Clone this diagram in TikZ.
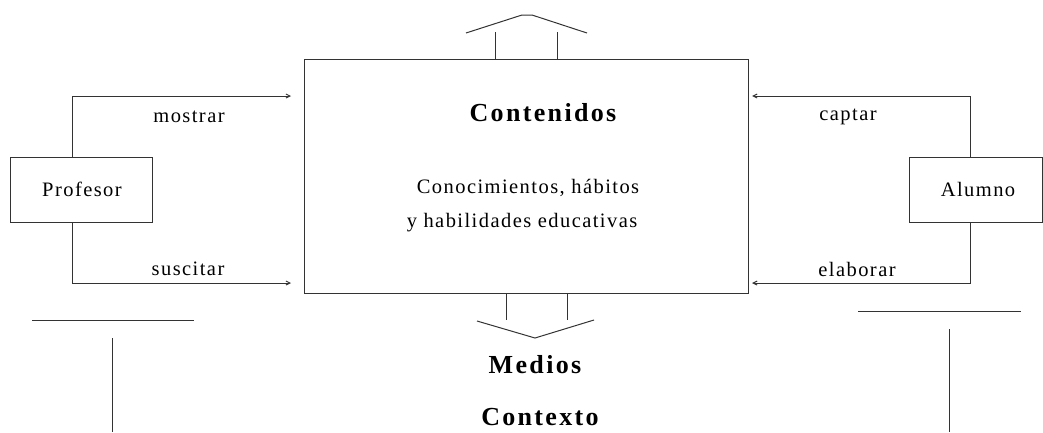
\documentclass[tikz,border=0pt]{standalone}
\usepackage{fontspec}
\setmainfont{Liberation Serif}
\usetikzlibrary{arrows.meta}
\tikzset{
  ln/.style={line width=1pt, draw=black!80},
  arr/.style={ln, -{Straight Barb[length=4pt,width=4pt]}},
  box/.style={ln, rectangle, inner sep=0pt},
  lbl/.style={font=\fontsize{20.5}{22}\selectfont\addfontfeature{LetterSpace=7}, inner sep=0pt},
  ttl/.style={font=\fontsize{26}{28}\selectfont\bfseries\addfontfeature{LetterSpace=9}, inner sep=0pt}
}
\begin{document}
\begin{tikzpicture}[x=1pt,y=-1pt]
\useasboundingbox (0,0) rectangle (1043,432);
% boxes
\node[box, minimum width=444pt, minimum height=234pt] (cont) at (526,176) {};
\node[box, minimum width=142pt, minimum height=65pt] (prof) at (81,189.5) {};
\node[box, minimum width=133pt, minimum height=65pt] (alum) at (975.5,189.5) {};
% texts
\node[ttl] (tcont) at (543,113) {Contenidos};
\node[lbl] (tcon1) at (528,188) {Conocimientos, hábitos};
\node[lbl] (tcon2) at (522,223) {y habilidades educativas};
\node[lbl] (tprof) at (82,189) {Profesor};
\node[lbl] (talum) at (978,189) {Alumno};
\node[lbl] (lmos) at (189,117) {mostrar};
\node[lbl] (lsus) at (188,269) {suscitar};
\node[lbl] (lcap) at (848,117) {captar};
\node[lbl] (lela) at (857,269) {elaborar};
\node[ttl] (tmed) at (535,365) {Medios};
\node[ttl] (tctx) at (540,417) {Contexto};
% connectors left
\coordinate (pt) at (72,157);
\coordinate (pb) at (72,222);
\coordinate (mo) at (291,96);
\coordinate (su) at (291,283);
\draw[arr] (pt) |- (mo);
\draw[arr] (pb) |- (su);
% connectors right
\coordinate (at) at (970,157);
\coordinate (ab) at (970,222);
\coordinate (ca) at (752,96);
\coordinate (el) at (752,283);
\draw[arr] (at) |- (ca);
\draw[arr] (ab) |- (el);
% top arrow
\coordinate (ta1) at (495,59);
\coordinate (ta2) at (557,59);
\draw[ln] (ta1) -- (495,32);
\draw[ln] (ta2) -- (557,32);
\draw[ln] (466,33) -- (522,15) -- (532,15) -- (587,33);
% bottom arrow
\coordinate (ba1) at (506,293);
\coordinate (ba2) at (567,293);
\draw[ln] (ba1) -- (506,320);
\draw[ln] (ba2) -- (567,320);
\draw[ln] (477,321) -- (535,338) -- (594,320);
% T shapes
\draw[ln] (32,320) -- (194,320);
\draw[ln] (112,338) -- (112,432);
\draw[ln] (858,311) -- (1021,311);
\draw[ln] (949,329) -- (949,432);
\end{tikzpicture}
\end{document}
